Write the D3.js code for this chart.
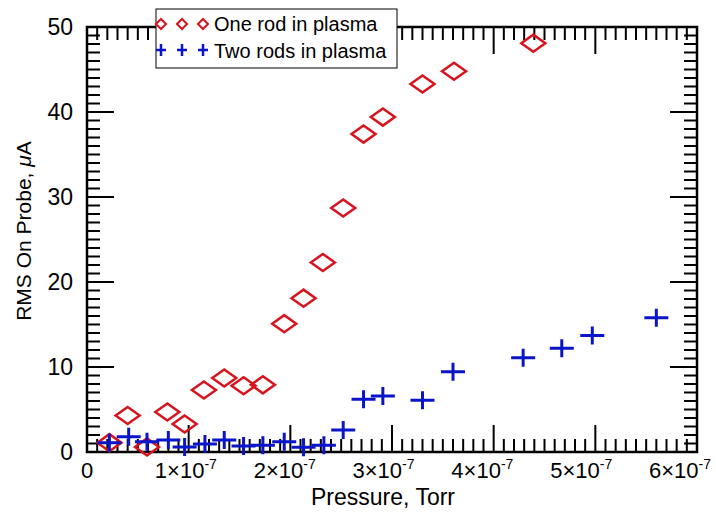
<!DOCTYPE html>
<html>
<head>
<meta charset="utf-8">
<script src="https://cdn.jsdelivr.net/npm/d3@7"></script>
<style>
  body { margin: 0; background: #fff; }
  text { font-family: "Liberation Sans", Arial, sans-serif; fill: #000; }
</style>
</head>
<body>
<script>
// values, pressure in Torr
const pressureOne = [0.22e-7, 0.40e-7, 0.59e-7, 0.79e-7, 0.96e-7, 1.15e-7, 1.35e-7, 1.54e-7, 1.73e-7,
                     1.94e-7, 2.13e-7, 2.32e-7, 2.52e-7, 2.72e-7, 2.91e-7, 3.30e-7, 3.61e-7, 4.39e-7];
const rmsOne = [1.1, 4.3, 0.6, 4.7, 3.3, 7.3, 8.7, 7.8, 7.9,
                15.1, 18.1, 22.3, 28.7, 37.4, 39.4, 43.3, 44.8, 48.1];

const pressureTwo = [0.22e-7, 0.41e-7, 0.59e-7, 0.80e-7, 0.96e-7, 1.16e-7, 1.35e-7, 1.54e-7, 1.73e-7,
                     1.94e-7, 2.13e-7, 2.33e-7, 2.52e-7, 2.72e-7, 2.91e-7, 3.30e-7, 3.60e-7, 4.29e-7,
                     4.67e-7, 4.97e-7, 5.60e-7];
const rmsTwo = [1.1, 1.8, 1.2, 1.4, 0.6, 0.95, 1.4, 0.7, 0.8,
                1.2, 0.55, 0.8, 2.6, 6.2, 6.6, 6.1, 9.45, 11.1,
                12.2, 13.7, 15.8];

const xTicks = [0, 1e-7, 2e-7, 3e-7, 4e-7, 5e-7, 6e-7];
const yTicks = [0, 10, 20, 30, 40, 50];
const seriesNames = ["One rod in plasma", "Two rods in plasma"];

const W = 716, H = 512;
const m = { left: 87, right: 697, top: 27, bottom: 452 };
const red = "#d7141e", blue = "#0a14c8";

const svg = d3.select("body").append("svg")
  .attr("width", W)
  .attr("height", H);

const x = d3.scaleLinear().domain([0, 6e-7]).range([m.left, m.right]);
const y = d3.scaleLinear().domain([0, 50]).range([m.bottom, m.top]);
// the labels in the original drift a bit left of their ticks
const xLab = d3.scaleLinear().domain([0, 6e-7]).range([m.left, 680]);

const xMinor = d3.range(0, 61).map(i => i * 1e-8);
const yMinor = d3.range(0, 51);

// ticks on all four sides, pointing inward
const major = 27, minor = 13;
const g = svg.append("g").attr("stroke", "#000").attr("stroke-width", 2);
xMinor.forEach((v, i) => {
  const len = i % 10 === 0 ? major : minor;
  g.append("line").attr("x1", x(v)).attr("x2", x(v)).attr("y1", m.bottom).attr("y2", m.bottom - len);
  g.append("line").attr("x1", x(v)).attr("x2", x(v)).attr("y1", m.top).attr("y2", m.top + len);
});
yMinor.forEach((v, i) => {
  const len = i % 10 === 0 ? major : minor;
  g.append("line").attr("y1", y(v)).attr("y2", y(v)).attr("x1", m.left).attr("x2", m.left + len);
  g.append("line").attr("y1", y(v)).attr("y2", y(v)).attr("x1", m.right).attr("x2", m.right - len);
});

svg.append("rect")
  .attr("x", m.left).attr("y", m.top)
  .attr("width", m.right - m.left).attr("height", m.bottom - m.top)
  .attr("fill", "none").attr("stroke", "#000").attr("stroke-width", 2.5);

// tick labels
const xl = svg.append("g").attr("font-size", 22).attr("text-anchor", "middle");
xTicks.forEach((v, i) => {
  const t = xl.append("text").attr("x", xLab(v)).attr("y", 478);
  if (i === 0) { t.text("0"); return; }
  t.append("tspan").text(i + "\u00d710");
  t.append("tspan").attr("font-size", 14).attr("dy", -9).text("-7");
});
const yl = svg.append("g").attr("font-size", 23).attr("text-anchor", "end");
yTicks.forEach(v => {
  yl.append("text").attr("x", 73).attr("y", y(v) + 8).text(v);
});

svg.append("text")
  .attr("x", 383).attr("y", 505)
  .attr("text-anchor", "middle").attr("font-size", 23)
  .text("Pressure, Torr");

const yt = svg.append("text")
  .attr("transform", "translate(31,231) rotate(-90)")
  .attr("text-anchor", "middle").attr("font-size", 21);
yt.append("tspan").text("RMS On Probe, ");
yt.append("tspan").attr("font-style", "italic").text("\u03bc");
yt.append("tspan").text("A");

// markers
function diamond(sel, cx, cy, hw, hh, sw) {
  sel.append("path")
    .attr("d", `M${cx - hw},${cy}L${cx},${cy - hh}L${cx + hw},${cy}L${cx},${cy + hh}Z`)
    .attr("fill", "none").attr("stroke", red).attr("stroke-width", sw);
}
function plus(sel, cx, cy, hw, hh, sw) {
  sel.append("path")
    .attr("d", `M${cx - hw},${cy}H${cx + hw}M${cx},${cy - hh}V${cy + hh}`)
    .attr("fill", "none").attr("stroke", blue).attr("stroke-width", sw);
}

const marks = svg.append("g");
pressureOne.forEach((p, i) => diamond(marks, x(p), y(rmsOne[i]), 12, 8.5, 2.5));
pressureTwo.forEach((p, i) => plus(marks, x(p), y(rmsTwo[i]), 12, 9, 3));

// legend
const lg = svg.append("g");
lg.append("rect").attr("x", 156).attr("y", 9).attr("width", 241).attr("height", 59)
  .attr("fill", "#fff").attr("stroke", "#000").attr("stroke-width", 1);
[161, 182, 203].forEach(cx => {
  diamond(lg, cx, 24, 5, 5, 2);
  plus(lg, cx, 50, 5, 6, 2.5);
});
lg.append("text").attr("x", 214).attr("y", 31).attr("font-size", 20).text(seriesNames[0]);
lg.append("text").attr("x", 214).attr("y", 58).attr("font-size", 20).text(seriesNames[1]);
</script>
</body>
</html>
